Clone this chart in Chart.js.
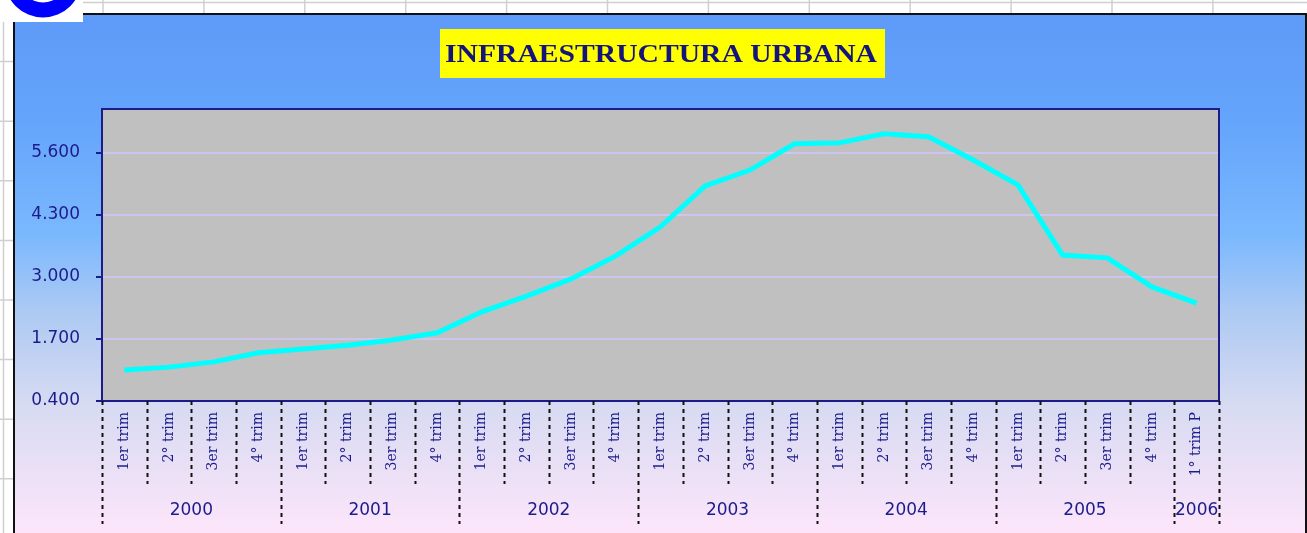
<!DOCTYPE html>
<html lang="es">
<head>
<meta charset="utf-8">
<title>Infraestructura urbana</title>
<script src="https://cdn.jsdelivr.net/npm/chart.js@4.4.1/dist/chart.umd.min.js"></script>
<style>
  body { margin: 0; background: #fff; }
  canvas { display: block; }
</style>
</head>
<body>
<canvas id="infraChart" width="1307" height="533"></canvas>
<script>
// data
const quarters = [
  '1er trim', '2° trim', '3er trim', '4° trim',
  '1er trim', '2° trim', '3er trim', '4° trim',
  '1er trim', '2° trim', '3er trim', '4° trim',
  '1er trim', '2° trim', '3er trim', '4° trim',
  '1er trim', '2° trim', '3er trim', '4° trim',
  '1er trim', '2° trim', '3er trim', '4° trim',
  '1° trim P'
];
const years = ['2000', '2001', '2002', '2003', '2004', '2005', '2006'];
const quartersPerYear = [4, 4, 4, 4, 4, 4, 1];
const values = [
  1.05, 1.11, 1.22, 1.41,
  1.49, 1.57, 1.68, 1.83,
  2.27, 2.60, 2.96, 3.44,
  4.05, 4.91, 5.24, 5.79,
  5.81, 6.00, 5.94, 5.45,
  4.93, 3.46, 3.40, 2.79,
  2.45
];
const yTicks = [0.4, 1.7, 3.0, 4.3, 5.6];
const chartTitle = 'INFRAESTRUCTURA URBANA';

const navy = '#1b1b8a';

const decor = {
  id: 'decor',
  beforeDraw(chart) {
    const { ctx, chartArea: a, width, height } = chart;
    ctx.save();
    ctx.fillStyle = '#fff';
    ctx.fillRect(0, 0, width, height);

    // spreadsheet grid behind the chart object
    ctx.strokeStyle = '#cfcfcf';
    ctx.lineWidth = 1.5;
    ctx.beginPath();
    ctx.moveTo(0, 2.5); ctx.lineTo(width, 2.5);
    ctx.moveTo(3.5, 0); ctx.lineTo(3.5, height);
    for (let x = 103; x < width; x += 100.9) { ctx.moveTo(x, 0); ctx.lineTo(x, 13); }
    for (let y = 61.6; y < height; y += 59.6) { ctx.moveTo(0, y); ctx.lineTo(14, y); }
    ctx.stroke();

    // blue logo fragment
    ctx.fillStyle = '#fff';
    ctx.fillRect(0, 0, 83, 22);
    ctx.save();
    ctx.beginPath(); ctx.rect(0, 0, 83, 22); ctx.clip();
    ctx.fillStyle = '#0000ff';
    ctx.beginPath();
    ctx.arc(43, -21, 38.5, 0, Math.PI * 2);
    ctx.arc(43, -21, 23.5, 0, Math.PI * 2, true);
    ctx.fill();
    ctx.restore();

    // chart object background
    const g = ctx.createLinearGradient(0, 13, 0, 540);
    g.addColorStop(0, '#5e9af8');
    g.addColorStop(0.2, '#64a4fb');
    g.addColorStop(0.42, '#7ab8fe');
    g.addColorStop(0.57, '#aecaf3');
    g.addColorStop(0.75, '#d8dbf2');
    g.addColorStop(1, '#ffe6fb');
    ctx.fillStyle = g;
    ctx.fillRect(14, 22, width - 14, height - 22);
    ctx.fillRect(83, 13, width - 83, 9);
    ctx.strokeStyle = '#111';
    ctx.lineWidth = 2;
    ctx.beginPath();
    ctx.moveTo(14, height); ctx.lineTo(14, 22);
    ctx.moveTo(83, 14); ctx.lineTo(1306, 14); ctx.lineTo(1306, height);
    ctx.stroke();

    // title box
    ctx.fillStyle = '#ffff00';
    ctx.fillRect(440, 29, 445, 49);

    // plot area
    ctx.fillStyle = '#c0c0c0';
    ctx.fillRect(a.left, a.top, a.width, a.height);
    ctx.restore();
  },
  afterDraw(chart) {
    const { ctx, chartArea: a } = chart;
    const xs = chart.scales.x;
    ctx.save();

    // title text
    ctx.font = 'bold 26px "Liberation Serif", serif';
    ctx.fillStyle = '#14147a';
    ctx.textBaseline = 'alphabetic';
    const tw = ctx.measureText(chartTitle).width;
    ctx.translate(661, 62);
    ctx.scale(432 / tw, 1);
    ctx.textAlign = 'center';
    ctx.fillText(chartTitle, 0, 0);
    ctx.setTransform(1, 0, 0, 1, 0, 0);

    // plot border
    ctx.strokeStyle = navy;
    ctx.lineWidth = 2;
    ctx.strokeRect(a.left, a.top, a.width, a.height);

    // category separators, long ones between years
    const yearEdges = new Set([0]);
    let k = 0;
    quartersPerYear.forEach(n => { k += n; yearEdges.add(k); });
    ctx.strokeStyle = '#111';
    ctx.lineWidth = 2;
    ctx.setLineDash([4, 4]);
    for (let i = 0; i <= quarters.length; i++) {
      const px = Math.round(xs.getPixelForValue(i - 0.5)) + 0.5;
      ctx.beginPath();
      ctx.moveTo(px, a.bottom);
      ctx.lineTo(px, yearEdges.has(i) ? 524 : 484);
      ctx.stroke();
    }
    ctx.setLineDash([]);

    // year labels
    ctx.font = '17px "DejaVu Sans", sans-serif';
    ctx.fillStyle = navy;
    ctx.textAlign = 'center';
    ctx.textBaseline = 'middle';
    let start = 0;
    years.forEach((yr, j) => {
      const end = start + quartersPerYear[j];
      const cx = (xs.getPixelForValue(start - 0.5) + xs.getPixelForValue(end - 0.5)) / 2;
      ctx.fillText(yr, cx, 511);
      start = end;
    });
    ctx.restore();
  }
};

new Chart(document.getElementById('infraChart'), {
  type: 'line',
  data: {
    labels: quarters,
    datasets: [{
      data: values,
      borderColor: '#00ffff',
      borderWidth: 5,
      pointRadius: 0,
      tension: 0,
      fill: false
    }]
  },
  options: {
    responsive: false,
    devicePixelRatio: 1,
    animation: false,
    layout: { padding: { top: 109, right: 88, left: 0, bottom: 0 } },
    plugins: {
      legend: { display: false },
      title: { display: false },
      tooltip: { enabled: false }
    },
    scales: {
      x: {
        offset: true,
        grid: { display: false, drawTicks: false },
        border: { display: false },
        ticks: {
          autoSkip: false,
          maxRotation: 90,
          minRotation: 90,
          padding: 11,
          color: navy,
          font: { family: '"DejaVu Serif", serif', size: 14 }
        },
        afterFit(s) { s.height = 132; }
      },
      y: {
        min: 0.4,
        max: 6.52,
        afterBuildTicks(s) { s.ticks = yTicks.map(v => ({ value: v })); },
        grid: {
          color: '#cdc5ee',
          lineWidth: 2,
          drawTicks: true,
          tickLength: 6,
          tickColor: navy,
          tickWidth: 2
        },
        border: { display: false },
        ticks: {
          padding: 16,
          color: navy,
          font: { family: '"DejaVu Sans", sans-serif', size: 17 },
          callback: v => Number(v).toFixed(3)
        },
        afterFit(s) { s.width = 102; }
      }
    }
  },
  plugins: [decor]
});
</script>
</body>
</html>
